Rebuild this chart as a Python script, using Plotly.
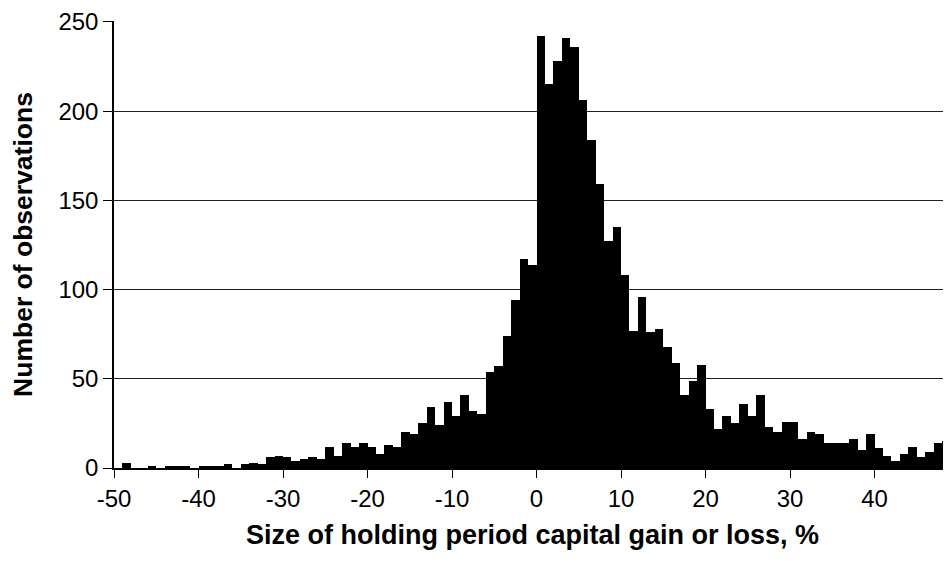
import plotly.graph_objects as go

# Histogram bins: left edge of each 1-percentage-point bin
bin_left = list(range(-50, 49))
counts = [
    0, 3, 0, 0, 1, 0, 1, 1, 1, 0,          # -50 .. -41
    1, 1, 1, 2, 0, 2, 3, 2, 6, 7,          # -40 .. -31
    6, 4, 5, 6, 5, 12, 7, 14, 12, 14,      # -30 .. -21
    12, 8, 13, 12, 20, 19, 25, 34, 24, 37, # -20 .. -11
    29, 41, 32, 30, 54, 57, 74, 94, 117, 114,  # -10 .. -1
    242, 215, 228, 241, 236, 206, 184, 159, 127, 135,  # 0 .. 9
    108, 77, 96, 76, 78, 68, 59, 41, 49, 58,  # 10 .. 19
    33, 22, 29, 25, 36, 29, 41, 23, 20, 26,   # 20 .. 29
    26, 16, 20, 19, 14, 14, 14, 16, 10, 19,   # 30 .. 39
    11, 7, 4, 8, 12, 6, 9, 14, 15,            # 40 .. 48
]
x_ticks = [-50, -40, -30, -20, -10, 0, 10, 20, 30, 40]
y_ticks = [0, 50, 100, 150, 200, 250]

x_title = "Size of holding period capital gain or loss, %"
y_title = "Number of observations"

centers = [b + 0.5 for b in bin_left]

fig = go.Figure()
fig.add_trace(go.Bar(
    x=centers, y=counts, width=1.0,
    marker=dict(color="black", line=dict(width=0)),
    showlegend=False,
))

font_family = "Liberation Sans, Arial, sans-serif"

# page body has an 8px margin, so the figure is sized/offset to compensate
fig.update_layout(
    width=943, height=559,
    margin=dict(l=106, r=0, t=13, b=99, autoexpand=False),
    paper_bgcolor="white", plot_bgcolor="white",
    bargap=0,
    font=dict(family=font_family, color="black", size=24),
    xaxis=dict(
        range=[-50, 49.05],
        tickmode="array", tickvals=x_ticks,
        ticktext=[str(v) for v in x_ticks],
        ticks="outside", ticklen=8, tickwidth=1, tickcolor="black",
        showline=True, linecolor="black", linewidth=1.5,
        showgrid=False, zeroline=False,
        tickfont=dict(size=24, family=font_family),
        title=dict(text="<b>" + x_title + "</b>",
                   font=dict(size=27, family=font_family), standoff=15),
    ),
    yaxis=dict(
        range=[0, 250.5],
        tickmode="array", tickvals=y_ticks,
        ticks="outside", ticklen=9, tickwidth=1, tickcolor="black",
        showline=True, linecolor="black", linewidth=1.5,
        showgrid=True, gridcolor="#222222", gridwidth=1,
        zeroline=False,
        tickfont=dict(size=24, family=font_family),
        title=dict(text="<b>" + y_title + "</b>",
                   font=dict(size=26.5, family=font_family), standoff=19),
    ),
)

fig.write_html("out.html")
